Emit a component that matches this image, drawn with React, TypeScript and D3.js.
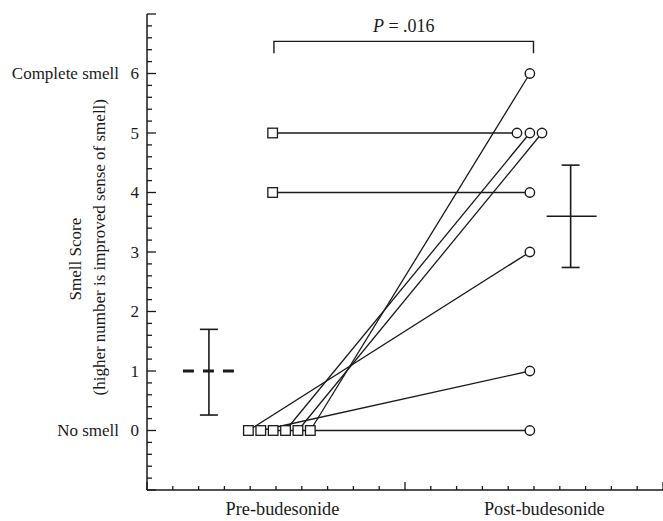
import React from 'react';
import * as d3 from 'd3';

// ---- data ----
const preScores = [5, 4, 0, 0, 0, 0, 0, 0];
const postScores = [5, 4, 3, 1, 0, 5, 5, 6];
// horizontal (jittered) positions on the 0..20 x axis
const preXPos = [4.87, 4.87, 3.93, 4.41, 4.89, 5.37, 5.85, 6.33];
const postXPos = [14.34, 14.84, 14.84, 14.84, 14.84, 14.84, 15.31, 14.84];

const groupLabels = ['Pre-budesonide', 'Post-budesonide'];
const groupLabelX = [5.25, 15.4];
const summaryX = [2.4, 16.42];
const summaryMean = [1.0, 3.6];
const summaryLow = [0.26, 2.74];
const summaryHigh = [1.7, 4.46];

const yTickValues = [0, 1, 2, 3, 4, 5, 6];
const yCategoryValues = [0, 6];
const yCategoryLabels = ['No smell', 'Complete smell'];
const yTitle1 = 'Smell Score';
const yTitle2 = '(higher number is improved sense of smell)';

const bracketX = [4.92, 14.98];
const bracketY = [6.54, 6.34];
const pText = '.016';

export default function App() {
  const W = 663, H = 521;
  const x = d3.scaleLinear().domain([0, 20]).range([147, 663]);
  const y = d3.scaleLinear().domain([-1, 7]).range([490, 14]);
  const font = '"Liberation Serif", "Times New Roman", serif';
  const ink = '#1a1a1a';

  const yMinor = d3.range(-1, 7.001, 0.2).map((v) => Math.round(v * 10) / 10);
  const xMinor = d3.range(0, 21, 1);

  const line = d3.line<[number, number]>().x((d) => x(d[0])).y((d) => y(d[1]));

  return (
    <svg width={W} height={H} style={{ position: 'absolute', left: 0, top: 0, background: '#fff' }} fontFamily={font}>
      {/* axes */}
      <line x1={x(0)} x2={x(0)} y1={y(7)} y2={y(-1)} stroke={ink} strokeWidth={1.5} />
      <line x1={x(0)} x2={x(20)} y1={y(-1)} y2={y(-1)} stroke={ink} strokeWidth={1.5} />
      {yMinor.map((v, i) => {
        const major = Math.abs(v - Math.round(v)) < 1e-6;
        return (
          <line key={'yt' + i} x1={x(0)} x2={x(0) + (major ? 9 : 5)} y1={y(v)} y2={y(v)} stroke={ink} strokeWidth={1.3} />
        );
      })}
      {xMinor.map((v, i) => {
        const major = v % 10 === 0;
        return (
          <line key={'xt' + i} x1={x(v)} x2={x(v)} y1={y(-1)} y2={y(-1) - (major ? 8 : 4)} stroke={ink} strokeWidth={1.3} />
        );
      })}
      {yTickValues.map((v) => (
        <text key={'yl' + v} x={139} y={y(v)} dy="0.35em" textAnchor="end" fontSize={17} fill={ink}>
          {v}
        </text>
      ))}
      {yCategoryValues.map((v, i) => (
        <text key={'yc' + v} x={119} y={y(v)} dy="0.35em" textAnchor="end" fontSize={17} fill={ink}>
          {yCategoryLabels[i]}
        </text>
      ))}
      <text transform={`translate(75,${y(2.88)}) rotate(-90)`} textAnchor="middle" dy="0.35em" fontSize={17} fill={ink}>
        {yTitle1}
      </text>
      <text transform={`translate(99,${y(3.08)}) rotate(-90)`} textAnchor="middle" dy="0.35em" fontSize={17} fill={ink}>
        {yTitle2}
      </text>
      {groupLabels.map((g, i) => (
        <text key={g} x={x(groupLabelX[i])} y={515} textAnchor="middle" fontSize={18.3} fill={ink}>
          {g}
        </text>
      ))}

      {/* significance bracket */}
      <path
        d={`M${x(bracketX[0])},${y(bracketY[1])}V${y(bracketY[0])}H${x(bracketX[1])}V${y(bracketY[1])}`}
        fill="none"
        stroke={ink}
        strokeWidth={1.4}
      />
      <text x={(x(bracketX[0]) + x(bracketX[1])) / 2} y={31.5} textAnchor="middle" fontSize={18} fill={ink}>
        <tspan fontStyle="italic">P</tspan> = {pText}
      </text>

      {/* subject lines */}
      {preScores.map((p, i) => (
        <path
          key={'ln' + i}
          d={line([
            [preXPos[i], p],
            [postXPos[i], postScores[i]],
          ]) as string}
          stroke={ink}
          strokeWidth={1.3}
          fill="none"
        />
      ))}
      {preScores.map((p, i) => (
        <rect
          key={'sq' + i}
          x={x(preXPos[i]) - 4.8}
          y={y(p) - 4.8}
          width={9.6}
          height={9.6}
          fill="#fff"
          stroke={ink}
          strokeWidth={1.3}
        />
      ))}
      {postScores.map((p, i) => (
        <circle key={'ci' + i} cx={x(postXPos[i])} cy={y(p)} r={4.7} fill="#fff" stroke={ink} strokeWidth={1.4} />
      ))}

      {/* summary bars */}
      {summaryX.map((sx, i) => {
        const cx = x(sx);
        return (
          <g key={'sum' + i}>
            <line x1={cx} x2={cx} y1={y(summaryHigh[i])} y2={y(summaryLow[i])} stroke={ink} strokeWidth={1.6} />
            <line x1={cx - 9} x2={cx + 9} y1={y(summaryHigh[i])} y2={y(summaryHigh[i])} stroke={ink} strokeWidth={1.6} />
            <line x1={cx - 9} x2={cx + 9} y1={y(summaryLow[i])} y2={y(summaryLow[i])} stroke={ink} strokeWidth={1.6} />
            {i === 0 ? (
              <line
                x1={cx - 26}
                x2={cx + 27}
                y1={y(summaryMean[i])}
                y2={y(summaryMean[i])}
                stroke={ink}
                strokeWidth={3.2}
                strokeDasharray="11,9"
              />
            ) : (
              <line x1={cx - 24} x2={cx + 26} y1={y(summaryMean[i])} y2={y(summaryMean[i])} stroke={ink} strokeWidth={1.6} />
            )}
          </g>
        );
      })}
    </svg>
  );
}
